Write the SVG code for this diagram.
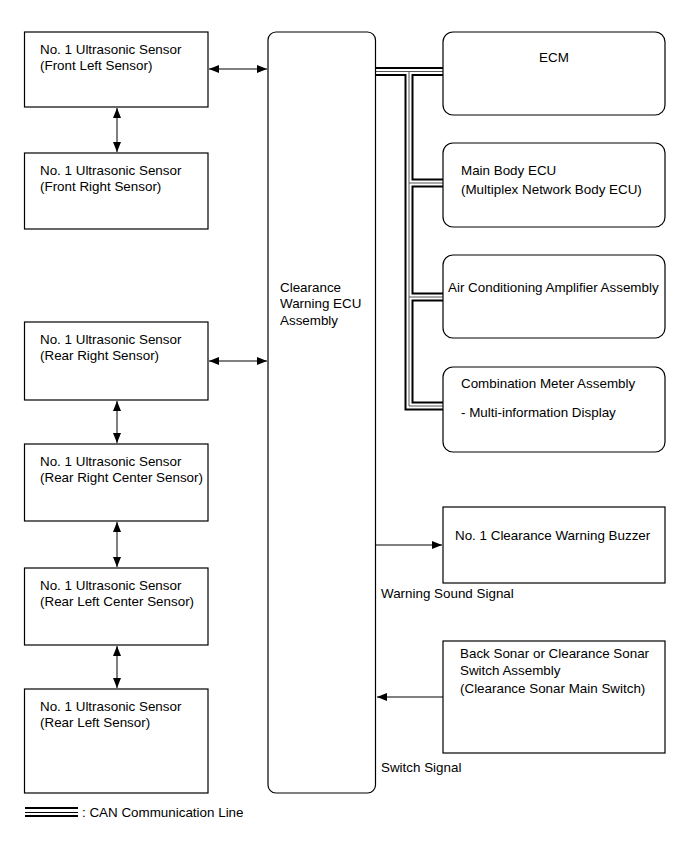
<svg xmlns="http://www.w3.org/2000/svg" width="691" height="854" viewBox="0 0 691 854">
<style>
text{font-family:"Liberation Sans",Arial,sans-serif;font-size:13.4px;fill:#000}
.box{fill:#fff;stroke:#000;stroke-width:1.2}
.ln{fill:none;stroke:#000;stroke-width:1}
.canO{fill:none;stroke:#000;stroke-width:9}
.canW{fill:none;stroke:#fff;stroke-width:5}
.canC{fill:none;stroke:#555;stroke-width:1}
</style>
<defs>
<marker id="ah" viewBox="0 0 10 8" refX="10" refY="4" markerWidth="10" markerHeight="8" markerUnits="userSpaceOnUse" orient="auto-start-reverse">
<path d="M0,0 L10,4 L0,8 Z" fill="#000"/>
</marker>
</defs>

<g id="connectors">
<g id="can-bus">
<path class="canO" d="M375,71.5 H443 M409,71.5 V406 H443 M409,183 H443 M409,297 H443"/>
<path class="canW" d="M375,71.5 H443 M409,71.5 V406 H443 M409,183 H443 M409,297 H443"/>
<path class="canC" d="M375,71.5 H443 M409,71.5 V406 H443 M409,183 H443 M409,297 H443"/>
</g>
<line class="ln" x1="209" y1="69" x2="267" y2="69" marker-start="url(#ah)" marker-end="url(#ah)"/>
<line class="ln" x1="117" y1="108" x2="117" y2="152" marker-start="url(#ah)" marker-end="url(#ah)"/>
<line class="ln" x1="209" y1="361" x2="267" y2="361" marker-start="url(#ah)" marker-end="url(#ah)"/>
<line class="ln" x1="117" y1="401" x2="117" y2="443" marker-start="url(#ah)" marker-end="url(#ah)"/>
<line class="ln" x1="117" y1="522" x2="117" y2="567" marker-start="url(#ah)" marker-end="url(#ah)"/>
<line class="ln" x1="117" y1="646" x2="117" y2="688" marker-start="url(#ah)" marker-end="url(#ah)"/>
<line class="ln" x1="376" y1="545" x2="442" y2="545" marker-end="url(#ah)"/>
<line class="ln" x1="443" y1="697" x2="377" y2="697" marker-end="url(#ah)"/>
</g>

<g id="front-left">
<rect class="box" x="24.5" y="32" width="183.5" height="75"/>
<text x="40" y="54">No. 1 Ultrasonic Sensor</text>
<text x="40" y="70">(Front Left Sensor)</text>
</g>
<g id="front-right">
<rect class="box" x="24.5" y="153" width="183.5" height="76"/>
<text x="40" y="175">No. 1 Ultrasonic Sensor</text>
<text x="40" y="191">(Front Right Sensor)</text>
</g>
<g id="rear-right">
<rect class="box" x="24.5" y="322" width="183.5" height="78"/>
<text x="40" y="344">No. 1 Ultrasonic Sensor</text>
<text x="40" y="360">(Rear Right Sensor)</text>
</g>
<g id="rear-right-center">
<rect class="box" x="24.5" y="444" width="183.5" height="77"/>
<text x="40" y="466">No. 1 Ultrasonic Sensor</text>
<text x="40" y="482">(Rear Right Center Sensor)</text>
</g>
<g id="rear-left-center">
<rect class="box" x="24.5" y="568" width="183.5" height="77"/>
<text x="40" y="590">No. 1 Ultrasonic Sensor</text>
<text x="40" y="606">(Rear Left Center Sensor)</text>
</g>
<g id="rear-left">
<rect class="box" x="24.5" y="689" width="183.5" height="104"/>
<text x="40" y="711">No. 1 Ultrasonic Sensor</text>
<text x="40" y="727">(Rear Left Sensor)</text>
</g>

<g id="ecu">
<rect class="box" x="268" y="32" width="107.5" height="761" rx="8"/>
<text x="280" y="292">Clearance</text>
<text x="280" y="308">Warning ECU</text>
<text x="280" y="325">Assembly</text>
</g>

<g id="ecm">
<rect class="box" x="443" y="32" width="222" height="83" rx="10"/>
<text x="554" y="62" text-anchor="middle">ECM</text>
</g>
<g id="main-body-ecu">
<rect class="box" x="443" y="143" width="222" height="84" rx="10"/>
<text x="461" y="175">Main Body ECU</text>
<text x="461" y="194">(Multiplex Network Body ECU)</text>
</g>
<g id="air-conditioning">
<rect class="box" x="443" y="255" width="222" height="83" rx="10"/>
<text x="448" y="292">Air Conditioning Amplifier Assembly</text>
</g>
<g id="combination-meter">
<rect class="box" x="443" y="367" width="222" height="85" rx="10"/>
<text x="461" y="388">Combination Meter Assembly</text>
<text x="461" y="417">- Multi-information Display</text>
</g>
<g id="buzzer">
<rect class="box" x="443" y="507" width="222" height="76"/>
<text x="455" y="540">No. 1 Clearance Warning Buzzer</text>
</g>
<text x="381" y="598">Warning Sound Signal</text>
<g id="sonar-switch">
<rect class="box" x="443" y="641" width="222" height="112"/>
<text x="460" y="658">Back Sonar or Clearance Sonar</text>
<text x="460" y="675">Switch Assembly</text>
<text x="460" y="693">(Clearance Sonar Main Switch)</text>
</g>
<text x="381" y="772">Switch Signal</text>

<g id="legend">
<line x1="25" y1="808" x2="78" y2="808" stroke="#000" stroke-width="2"/>
<line x1="25" y1="812.5" x2="78" y2="812.5" stroke="#000" stroke-width="1"/>
<line x1="25" y1="816" x2="78" y2="816" stroke="#000" stroke-width="2"/>
<text x="82" y="817">: CAN Communication Line</text>
</g>
</svg>
